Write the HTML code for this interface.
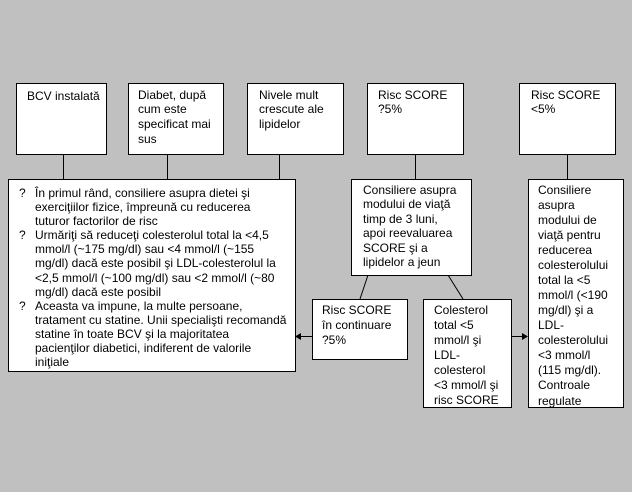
<!DOCTYPE html>
<html><head><meta charset="utf-8"><style>
html,body{margin:0;padding:0;background:#c0c0c0;}
svg{display:block;}
text{font-family:"Liberation Sans",Arial,sans-serif;font-size:12px;fill:#000;}
</style></head><body>
<svg width="632" height="492" viewBox="0 0 632 492" xmlns="http://www.w3.org/2000/svg">
<rect width="632" height="492" fill="#c0c0c0"/>
<g stroke="#000" stroke-width="1" fill="none">
<line x1="63.5" y1="155" x2="63.5" y2="179"/>
<line x1="167.5" y1="155" x2="167.5" y2="179"/>
<line x1="279.5" y1="155" x2="279.5" y2="179"/>
<line x1="415.5" y1="155" x2="415.5" y2="179"/>
<line x1="567.5" y1="155" x2="567.5" y2="179"/>
<line x1="368" y1="275" x2="360" y2="299"/>
<line x1="448" y1="275" x2="463" y2="299"/>
<line x1="312" y1="336.5" x2="300" y2="336.5"/>
<line x1="511" y1="336.5" x2="522" y2="336.5"/>
</g>
<polygon points="295,336.5 301,333 301,340" fill="#000"/>
<polygon points="528,336.5 522,333 522,340" fill="#000"/>
<g fill="#fff" stroke="#000" stroke-width="1">
<rect x="16.5" y="83.5" width="90" height="71"/>
<rect x="128.5" y="83.5" width="95" height="71"/>
<rect x="247.5" y="83.5" width="96" height="71"/>
<rect x="367.5" y="83.5" width="96" height="71"/>
<rect x="519.5" y="83.5" width="96" height="71"/>
<rect x="8.5" y="179.5" width="287" height="192"/>
<rect x="351.5" y="179.5" width="120" height="96"/>
<rect x="528.5" y="179.5" width="95" height="228"/>
<rect x="312.5" y="299.5" width="95" height="60"/>
<rect x="423.5" y="299.5" width="88" height="108"/>
</g>
<text x="27" y="100">BCV instalată</text>
<text x="138" y="99">Diabet, după</text>
<text x="138" y="113">cum este</text>
<text x="138" y="128">specificat mai</text>
<text x="138" y="143">sus</text>
<text x="259" y="99">Nivele mult</text>
<text x="259" y="113">crescute ale</text>
<text x="259" y="128">lipidelor</text>
<text x="378" y="99">Risc SCORE</text>
<text x="378" y="113">?5%</text>
<text x="531" y="99">Risc SCORE</text>
<text x="531" y="113">&lt;5%</text>

<text x="19" y="197">?</text>
<text x="35" y="197">În primul rând, consiliere asupra dietei şi</text>
<text x="35" y="211">exerciţiilor fizice, împreună cu reducerea</text>
<text x="35" y="225">tuturor factorilor de risc</text>
<text x="19" y="239">?</text>
<text x="35" y="239">Urmăriţi să reduceţi colesterolul total la &lt;4,5</text>
<text x="35" y="253">mmol/l (~175 mg/dl) sau &lt;4 mmol/l (~155</text>
<text x="35" y="267">mg/dl) dacă este posibil şi LDL-colesterolul la</text>
<text x="35" y="282">&lt;2,5 mmol/l (~100 mg/dl) sau &lt;2 mmol/l (~80</text>
<text x="35" y="296">mg/dl) dacă este posibil</text>
<text x="19" y="310">?</text>
<text x="35" y="310">Aceasta va impune, la multe persoane,</text>
<text x="35" y="324">tratament cu statine. Unii specialişti recomandă</text>
<text x="35" y="338">statine în toate BCV şi la majoritatea</text>
<text x="35" y="352">pacienţilor diabetici, indiferent de valorile</text>
<text x="35" y="366">iniţiale</text>

<text x="363" y="194">Consiliere asupra</text>
<text x="363" y="208">modului de viaţă</text>
<text x="363" y="223">timp de 3 luni,</text>
<text x="363" y="237">apoi reevaluarea</text>
<text x="363" y="252">SCORE şi a</text>
<text x="363" y="266">lipidelor a jeun</text>

<text x="538" y="194">Consiliere</text>
<text x="538" y="209">asupra</text>
<text x="538" y="224">modului de</text>
<text x="538" y="239">viaţă pentru</text>
<text x="538" y="254">reducerea</text>
<text x="538" y="269">colesterolului</text>
<text x="538" y="284">total la &lt;5</text>
<text x="538" y="299">mmol/l (&lt;190</text>
<text x="538" y="314">mg/dl) şi a</text>
<text x="538" y="329">LDL-</text>
<text x="538" y="344">colesterolului</text>
<text x="538" y="359">&lt;3 mmol/l</text>
<text x="538" y="374">(115 mg/dl).</text>
<text x="538" y="389">Controale</text>
<text x="538" y="405">regulate</text>

<text x="322" y="314">Risc SCORE</text>
<text x="322" y="329">în continuare</text>
<text x="322" y="344">?5%</text>

<text x="434" y="314">Colesterol</text>
<text x="434" y="329">total &lt;5</text>
<text x="434" y="344">mmol/l şi</text>
<text x="434" y="359">LDL-</text>
<text x="434" y="374">colesterol</text>
<text x="434" y="389">&lt;3 mmol/l şi</text>
<text x="434" y="404">risc SCORE</text>
</svg>
</body></html>
